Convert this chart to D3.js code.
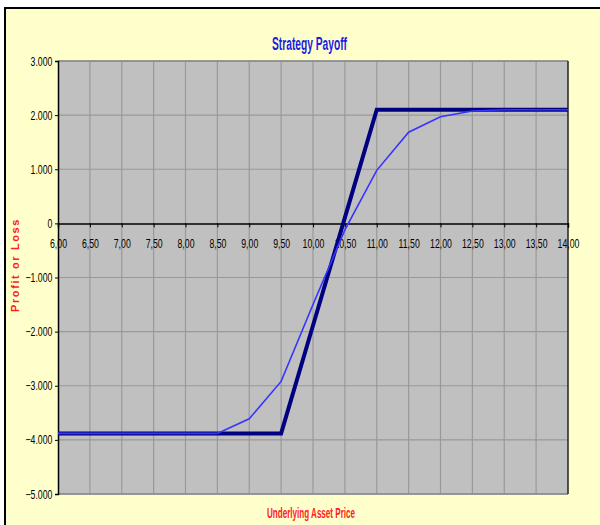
<!DOCTYPE html>
<html><head><meta charset="utf-8">
<script src="https://cdn.jsdelivr.net/npm/d3@7"></script>
<style>
html,body{margin:0;padding:0;background:#fff;}
svg{display:block;}
text{font-family:"Liberation Sans",Arial,sans-serif;}
</style></head>
<body>
<svg id="chart" width="600" height="525"></svg>
<script>
// Data
const prices = [6.0,6.5,7.0,7.5,8.0,8.5,9.0,9.5,10.0,10.5,11.0,11.5,12.0,12.5,13.0,13.5,14.0];
const expiryPayoff = [-3880,-3880,-3880,-3880,-3880,-3880,-3880,-3880,-1887,107,2100,2100,2100,2100,2100,2100,2100];
const currentPayoff = [-3880,-3880,-3880,-3880,-3880,-3880,-3610,-2920,-1500,-120,980,1685,1970,2075,2100,2100,2100];
const xTicks = [6,6.5,7,7.5,8,8.5,9,9.5,10,10.5,11,11.5,12,12.5,13,13.5,14];
const yTicks = [3000,2000,1000,0,-1000,-2000,-3000,-4000,-5000];
const title = "Strategy Payoff";
const xTitle = "Underlying Asset Price";
const yTitle = "Profit or Loss";

const svg = d3.select("#chart");
// frame
svg.append("rect").attr("x",5).attr("y",8).attr("width",620).attr("height",540)
  .attr("fill","#FFFFCC").attr("stroke","#000").attr("stroke-width",2);

const L=58,R=568,T=61,B=494;
const x = d3.scaleLinear().domain([6,14]).range([L,R]);
const y = d3.scaleLinear().domain([-5000,3000]).range([B,T]);

svg.append("rect").attr("x",L).attr("y",T).attr("width",R-L).attr("height",B-T).attr("fill","#C0C0C0");

// grid
svg.append("g").selectAll("line").data(xTicks.slice(1,-1)).join("line")
  .attr("x1",d=>x(d)).attr("x2",d=>x(d)).attr("y1",T).attr("y2",B)
  .attr("stroke","#999").attr("stroke-width",1.2);
svg.append("g").selectAll("line").data(yTicks.filter(d=>d!==0)).join("line")
  .attr("x1",L).attr("x2",R).attr("y1",d=>y(d)).attr("y2",d=>y(d))
  .attr("stroke","#999").attr("stroke-width",1.2);
// borders
svg.append("line").attr("x1",L).attr("x2",R).attr("y1",T).attr("y2",T).attr("stroke","#888").attr("stroke-width",1.5);
svg.append("line").attr("x1",L).attr("x2",R).attr("y1",B).attr("y2",B).attr("stroke","#888").attr("stroke-width",1.5);
svg.append("line").attr("x1",R).attr("x2",R).attr("y1",T).attr("y2",B).attr("stroke","#222").attr("stroke-width",1.5);

// y axis
const yAxis = d3.axisLeft(y).tickValues(yTicks).tickSize(3).tickPadding(3)
  .tickFormat(d=>d===0?"0":d3.format(".3f")(d/1000));
const gy = svg.append("g").attr("transform",`translate(${L},0)`).call(yAxis);
gy.select(".domain").attr("stroke","#000").attr("stroke-width",1.5);
gy.selectAll(".tick line").attr("stroke","#000");
gy.selectAll("text").attr("font-size",12.5).attr("fill","#000").attr("font-family",null)
  .attr("x",-8).attr("transform","scale(0.7,1)");

// x axis at zero
const xAxis = d3.axisBottom(x).tickValues(xTicks).tickSize(4).tickPadding(12)
  .tickFormat(d=>d3.format(".2f")(d).replace(".",","));
const gx = svg.append("g").attr("transform",`translate(0,${y(0)})`).call(xAxis);
gx.select(".domain").attr("stroke","#000").attr("stroke-width",1.5);
gx.selectAll(".tick line").attr("stroke","#000");
gx.selectAll("text").attr("font-size",12.5).attr("fill","#000").attr("font-family",null)
  .attr("transform","scale(0.7,1)");

// lines
const line = d3.line().x((d,i)=>x(prices[i])).y(d=>y(d));
svg.append("path").datum(expiryPayoff).attr("d",line).attr("fill","none")
  .attr("stroke","#000080").attr("stroke-width",4).attr("stroke-linejoin","miter");
svg.append("path").datum(currentPayoff).attr("d",line).attr("fill","none")
  .attr("stroke","#3535FF").attr("stroke-width",1.6);

// titles
svg.append("text").attr("x",272).attr("y",50)
  .attr("font-size",17.5).attr("font-weight","bold").attr("fill","#1A1AE6")
  .attr("textLength",75).attr("lengthAdjust","spacingAndGlyphs").text(title);
svg.append("text").attr("x",267).attr("y",518)
  .attr("font-size",14).attr("font-weight","bold").attr("fill","#FF2020")
  .attr("textLength",88).attr("lengthAdjust","spacingAndGlyphs").text(xTitle);
svg.append("text").attr("transform","translate(19,265) rotate(-90)").attr("text-anchor","middle")
  .attr("font-size",11).attr("font-weight","bold")
  .attr("letter-spacing",1.6).attr("fill","#FF2020").text(yTitle);
</script>
</body></html>
